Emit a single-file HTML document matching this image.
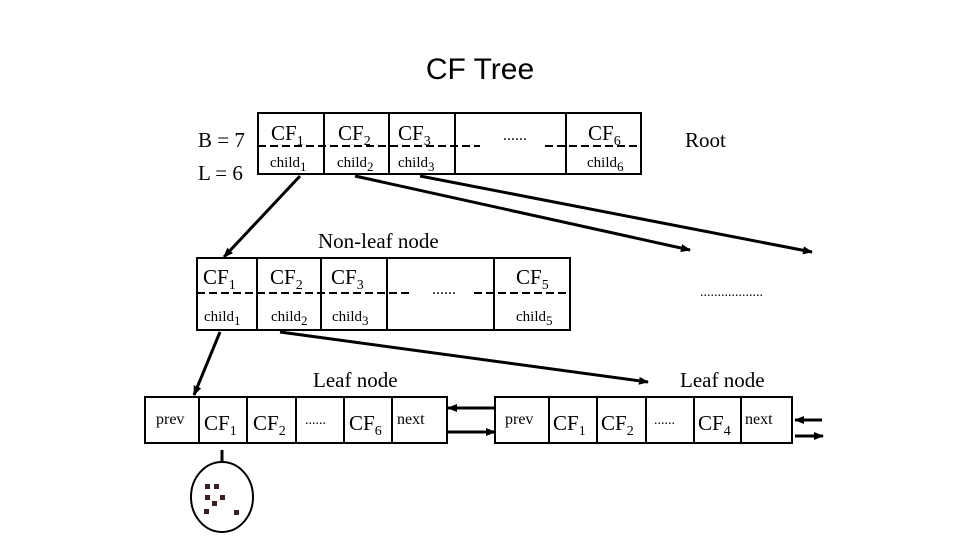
<!DOCTYPE html>
<html><head><meta charset="utf-8"><style>
html,body{margin:0;padding:0;background:#fff;}
svg{display:block;}
text{font-family:"Liberation Serif",serif;fill:#000;}
</style></head><body>
<svg width="960" height="540" viewBox="0 0 960 540" xmlns="http://www.w3.org/2000/svg">
<defs>
<marker id="ah" markerWidth="10" markerHeight="8" refX="9" refY="4" orient="auto" markerUnits="userSpaceOnUse">
<path d="M0,0 L10,4 L0,8 z" fill="#000"/></marker>
</defs>
<text x="480" y="79" text-anchor="middle" style="font-family:'Liberation Sans',sans-serif;font-size:30px">CF Tree</text>

<!-- Root -->
<g stroke="#000" stroke-width="2" fill="none">
<rect x="258" y="113" width="383" height="61"/>
<line x1="324" y1="113" x2="324" y2="174"/><line x1="389" y1="113" x2="389" y2="174"/>
<line x1="455" y1="113" x2="455" y2="174"/><line x1="566" y1="113" x2="566" y2="174"/>
<line x1="258" y1="146" x2="480" y2="146" stroke-dasharray="8,4"/>
<line x1="545" y1="146" x2="641" y2="146" stroke-dasharray="8,4"/>
</g>
<text x="198" y="147" font-size="21">B = 7</text>
<text x="198" y="180" font-size="21">L = 6</text>
<text x="271" y="140" font-size="21">CF<tspan font-size="14" dy="5">1</tspan></text>
<text x="338" y="140" font-size="21">CF<tspan font-size="14" dy="5">2</tspan></text>
<text x="398" y="140" font-size="21">CF<tspan font-size="14" dy="5">3</tspan></text>
<text x="503" y="140" font-size="16">......</text>
<text x="588" y="140" font-size="21">CF<tspan font-size="14" dy="5">6</tspan></text>
<text x="270" y="167" font-size="15">child<tspan font-size="13" dy="4">1</tspan></text>
<text x="337" y="167" font-size="15">child<tspan font-size="13" dy="4">2</tspan></text>
<text x="398" y="167" font-size="15">child<tspan font-size="13" dy="4">3</tspan></text>
<text x="587" y="167" font-size="15">child<tspan font-size="13" dy="4">6</tspan></text>
<text x="685" y="147" font-size="21">Root</text>

<!-- Non-leaf -->
<g stroke="#000" stroke-width="2" fill="none">
<rect x="197" y="258" width="373" height="72"/>
<line x1="257" y1="258" x2="257" y2="330"/><line x1="321" y1="258" x2="321" y2="330"/>
<line x1="387" y1="258" x2="387" y2="330"/><line x1="494" y1="258" x2="494" y2="330"/>
<line x1="197" y1="293" x2="410" y2="293" stroke-dasharray="8,4"/>
<line x1="474" y1="293" x2="570" y2="293" stroke-dasharray="8,4"/>
</g>
<text x="318" y="248" font-size="21">Non-leaf node</text>
<text x="203" y="284" font-size="21">CF<tspan font-size="14" dy="5">1</tspan></text>
<text x="270" y="284" font-size="21">CF<tspan font-size="14" dy="5">2</tspan></text>
<text x="331" y="284" font-size="21">CF<tspan font-size="14" dy="5">3</tspan></text>
<text x="432" y="294" font-size="16">......</text>
<text x="516" y="284" font-size="21">CF<tspan font-size="14" dy="5">5</tspan></text>
<text x="204" y="321" font-size="15">child<tspan font-size="13" dy="4">1</tspan></text>
<text x="271" y="321" font-size="15">child<tspan font-size="13" dy="4">2</tspan></text>
<text x="332" y="321" font-size="15">child<tspan font-size="13" dy="4">3</tspan></text>
<text x="516" y="321" font-size="15">child<tspan font-size="13" dy="4">5</tspan></text>
<text x="700" y="296" font-size="14">..................</text>

<!-- Leaves -->
<g stroke="#000" stroke-width="2" fill="none">
<rect x="145" y="397" width="302" height="46"/>
<line x1="199" y1="397" x2="199" y2="443"/><line x1="247" y1="397" x2="247" y2="443"/>
<line x1="296" y1="397" x2="296" y2="443"/><line x1="344" y1="397" x2="344" y2="443"/>
<line x1="392" y1="397" x2="392" y2="443"/>
<rect x="495" y="397" width="297" height="46"/>
<line x1="549" y1="397" x2="549" y2="443"/><line x1="597" y1="397" x2="597" y2="443"/>
<line x1="646" y1="397" x2="646" y2="443"/><line x1="694" y1="397" x2="694" y2="443"/>
<line x1="741" y1="397" x2="741" y2="443"/>
</g>
<text x="313" y="387" font-size="21">Leaf node</text>
<text x="680" y="387" font-size="21">Leaf node</text>
<text x="156" y="424" font-size="16">prev</text>
<text x="204" y="430" font-size="21">CF<tspan font-size="14" dy="5">1</tspan></text>
<text x="253" y="430" font-size="21">CF<tspan font-size="14" dy="5">2</tspan></text>
<text x="305" y="424" font-size="14">......</text>
<text x="349" y="430" font-size="21">CF<tspan font-size="14" dy="5">6</tspan></text>
<text x="397" y="424" font-size="16">next</text>
<text x="505" y="424" font-size="16">prev</text>
<text x="553" y="430" font-size="21">CF<tspan font-size="14" dy="5">1</tspan></text>
<text x="601" y="430" font-size="21">CF<tspan font-size="14" dy="5">2</tspan></text>
<text x="654" y="424" font-size="14">......</text>
<text x="698" y="430" font-size="21">CF<tspan font-size="14" dy="5">4</tspan></text>
<text x="745" y="424" font-size="16">next</text>

<!-- circle -->
<line x1="222" y1="450" x2="222" y2="462" stroke="#000" stroke-width="3"/>
<ellipse cx="222" cy="497" rx="31" ry="35" stroke="#000" stroke-width="2" fill="none"/>
<g fill="#3a2020">
<rect x="205" y="484" width="5" height="5"/><rect x="214" y="484" width="5" height="5"/>
<rect x="205" y="495" width="5" height="5"/><rect x="220" y="495" width="5" height="5"/>
<rect x="212" y="501" width="5" height="5"/><rect x="204" y="509" width="5" height="5"/>
<rect x="234" y="510" width="5" height="5"/>
</g>

<!-- arrows -->
<g stroke="#000" stroke-width="3" fill="none">
<line x1="300" y1="176" x2="224" y2="257" marker-end="url(#ah)"/>
<line x1="355" y1="176" x2="690" y2="250" marker-end="url(#ah)"/>
<line x1="420" y1="176" x2="812" y2="252" marker-end="url(#ah)"/>
<line x1="220" y1="332" x2="194" y2="395" marker-end="url(#ah)"/>
<line x1="280" y1="332" x2="648" y2="382" marker-end="url(#ah)"/>
<line x1="495" y1="408" x2="448" y2="408" marker-end="url(#ah)"/>
<line x1="448" y1="432" x2="495" y2="432" marker-end="url(#ah)"/>
<line x1="822" y1="420" x2="795" y2="420" marker-end="url(#ah)"/>
<line x1="795" y1="436" x2="823" y2="436" marker-end="url(#ah)"/>
</g>
</svg>
</body></html>
